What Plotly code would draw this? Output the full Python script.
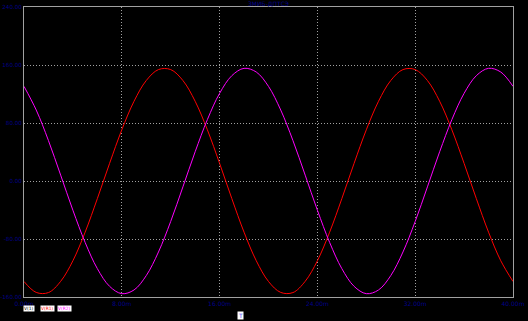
import plotly.graph_objects as go

t_ms = list(range(0, 41))
v_r1 = [-138.6, -153.7, -153.9, -138.4, -110.0, -70.6, -24.3, 24.3, 70.6, 110.0,
        138.6, 153.7, 153.7, 138.6, 110.0, 70.6, 24.3, -24.3, -70.6, -110.0,
        -138.6, -153.7, -153.9, -138.4, -110.0, -70.6, -24.3, 24.3, 70.6, 110.0,
        138.6, 153.7, 153.7, 138.6, 110.0, 70.6, 24.3, -24.3, -70.6, -110.0, -138.6]
v_r2 = [130.5, 97.9, 55.8, 8.1, -40.3, -84.7, -120.9, -145.3, -155.4, -150.3,
        -130.5, -97.9, -55.8, -8.1, 40.3, 84.7, 120.9, 145.3, 155.4, 150.3,
        130.5, 97.9, 55.8, 8.1, -40.3, -84.7, -120.9, -145.3, -155.4, -150.3,
        -130.5, -97.9, -55.8, -8.1, 40.3, 84.7, 120.9, 145.3, 155.4, 150.3, 130.5]

x_ticks = [0, 8, 16, 24, 32, 40]
x_tick_labels = ["0.00m", "8.00m", "16.00m", "24.00m", "32.00m", "40.00m"]
y_ticks = [-160, -80, 0, 80, 160, 240]
y_tick_labels = ["-160.00", "-80.00", "0.00", "80.00", "160.00", "240.00"]
legend_names = ["V(1)", "V(R1)", "V(R2)"]
legend_colors = ["#000000", "#ff0000", "#ff00ff"]
title_text = "ЗМИБ-ДПТСЭ"

blue = "#00008b"
frame = "#a0a0a0"

fig = go.Figure()
fig.add_trace(go.Scatter(x=t_ms, y=v_r1, mode="lines", line=dict(color="#ff0000", width=1, shape="spline"),
                         name=legend_names[1]))
fig.add_trace(go.Scatter(x=t_ms, y=v_r2, mode="lines", line=dict(color="#ff00ff", width=1, shape="spline"),
                         name=legend_names[2]))

fig.update_layout(
    width=528, height=321,
    paper_bgcolor="black", plot_bgcolor="black",
    margin=dict(l=24, r=15, t=7, b=24, autoexpand=False),
    showlegend=False,
    font=dict(family="DejaVu Sans", size=6, color=blue),
)
fig.update_xaxes(range=[0, 40], tickvals=x_ticks, ticktext=x_tick_labels, automargin=False,
                 showgrid=True, gridcolor=frame, griddash="1px,2px", gridwidth=1,
                 showline=True, linecolor=frame, linewidth=1, mirror=True,
                 zeroline=False, ticks="", ticklabelstandoff=1, tickfont=dict(color=blue, size=6))
fig.update_yaxes(range=[-160, 240], tickvals=y_ticks, ticktext=y_tick_labels, automargin=False,
                 showgrid=True, gridcolor=frame, griddash="1px,2px", gridwidth=1,
                 showline=True, linecolor=frame, linewidth=1, mirror=True,
                 zeroline=False, ticks="", ticklabelstandoff=0, tickfont=dict(color=blue, size=5.6))

fig.add_annotation(text=title_text, x=0.5, y=1, xref="paper", yref="paper", xanchor="center",
                   yanchor="bottom", showarrow=False, font=dict(color=blue, size=6), yshift=-2)

# legend box positions in pixels converted to paper fraction
legend_px = [23, 40, 57]
for name, col, px in zip(legend_names, legend_colors, legend_px):
    fig.add_annotation(text=name, x=(px - 24) / 489, y=0, xref="paper", yref="paper",
                       xanchor="left", yanchor="top",
                       yshift=-8, showarrow=False, bgcolor="white", borderpad=0,
                       font=dict(color=col, size=4.4))
fig.add_annotation(text="T", x=(240 - 24) / 489, y=0, xref="paper", yref="paper", xanchor="center",
                   yanchor="top", yshift=-14, showarrow=False, bgcolor="white", borderpad=0,
                   font=dict(color="#4040ff", size=6))

fig.write_html("out.html")
